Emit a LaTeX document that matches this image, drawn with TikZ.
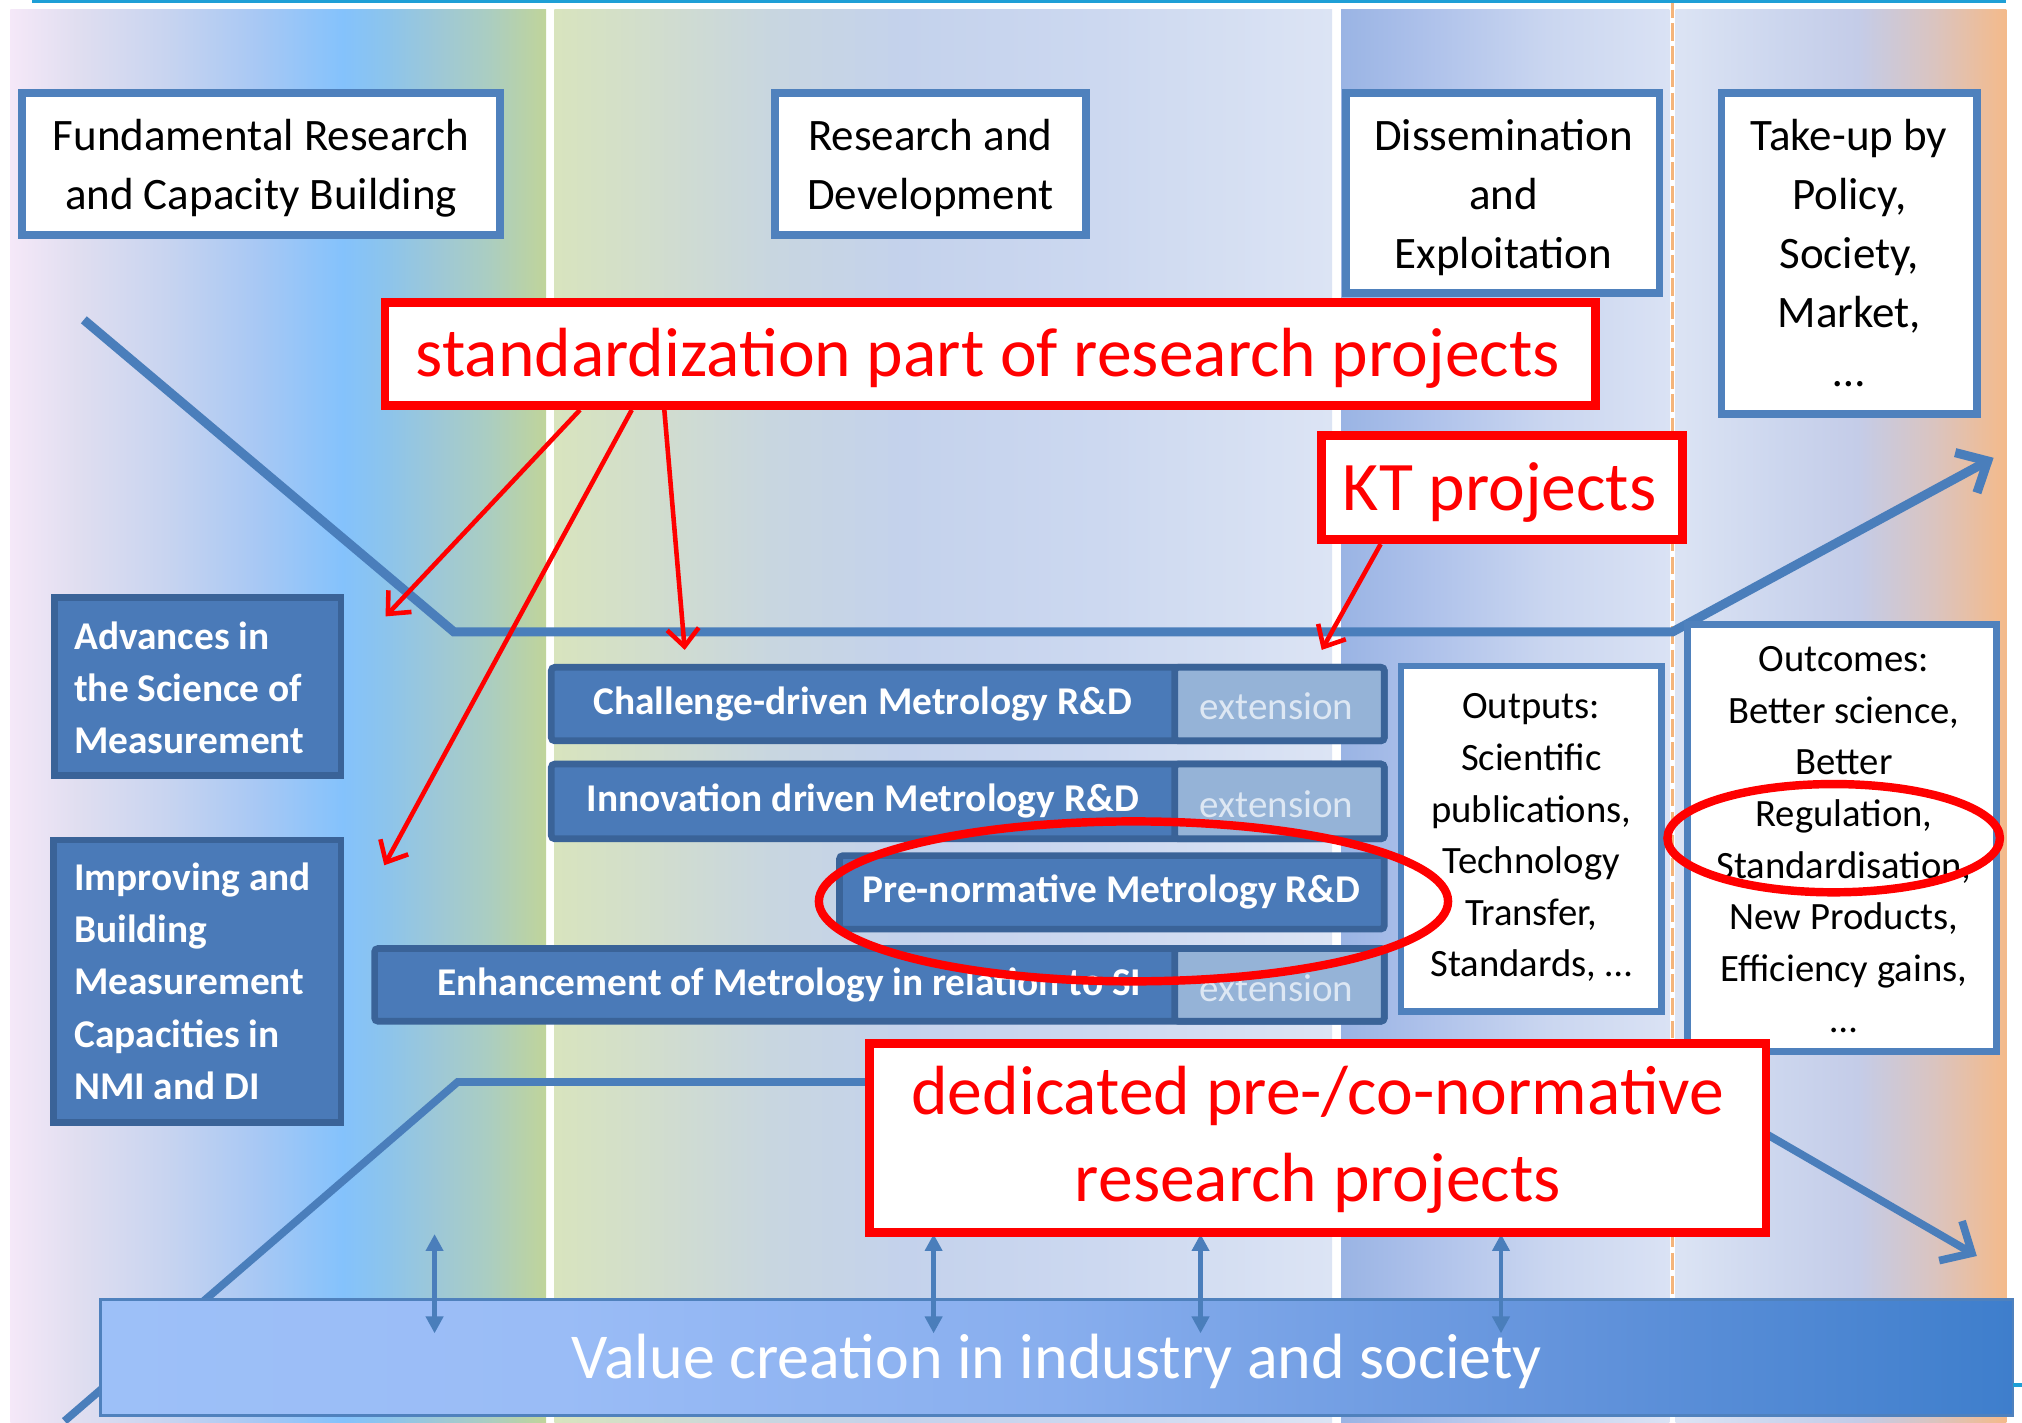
\documentclass[tikz,border=0pt]{standalone}
\usepackage{fontspec}
\setmainfont{Carlito}
\usetikzlibrary{arrows.meta,fit,calc,shapes.geometric}

\definecolor{bblue}{HTML}{4F81BD}
\definecolor{lblue}{HTML}{4A7EBB}
\definecolor{dfill}{HTML}{4A7AB8}
\definecolor{dborder}{HTML}{3A6398}
\definecolor{efill}{HTML}{95B3D7}
\definecolor{etext}{HTML}{DDE7F3}
\definecolor{myred}{HTML}{FF0000}
\definecolor{cyanl}{HTML}{1E9FD6}
\definecolor{dashor}{HTML}{F4B47A}
% column 1
\definecolor{aA}{HTML}{F5E8F8}\definecolor{aB}{HTML}{E0DEF0}\definecolor{aC}{HTML}{C8D4F0}
\definecolor{aD}{HTML}{A8C8F4}\definecolor{aE}{HTML}{84C2FC}\definecolor{aF}{HTML}{8CC4EC}
\definecolor{aG}{HTML}{9EC8D6}\definecolor{aH}{HTML}{AACDC2}\definecolor{aI}{HTML}{C0D49A}
% column 2
\definecolor{bA}{HTML}{D8E4BE}\definecolor{bB}{HTML}{D0DCD0}\definecolor{bC}{HTML}{C8D6E0}
\definecolor{bD}{HTML}{C4D2EC}\definecolor{bE}{HTML}{CCD8F0}\definecolor{bF}{HTML}{DCE4F4}
% column 3
\definecolor{cA}{HTML}{9AB4E4}\definecolor{cB}{HTML}{ACC0EA}\definecolor{cC}{HTML}{CAD6F0}
\definecolor{cD}{HTML}{DAE2F4}
% column 4
\definecolor{dA}{HTML}{DCE4F4}\definecolor{dB}{HTML}{CCD6EE}\definecolor{dC}{HTML}{C4CCE8}
\definecolor{dD}{HTML}{DAC4C0}\definecolor{dE}{HTML}{F4BA8A}
% value bar
\definecolor{vA}{HTML}{9DC0F8}\definecolor{vB}{HTML}{9ABCF6}\definecolor{vC}{HTML}{88AEEE}
\definecolor{vD}{HTML}{6494DC}\definecolor{vE}{HTML}{3E7ECC}

\pgfdeclarehorizontalshading{shcolA}{100bp}{color(0bp)=(aA); color(25bp)=(aA); color(31.25bp)=(aB);
  color(39.5bp)=(aC); color(48bp)=(aD); color(56bp)=(aE); color(60bp)=(aF); color(65bp)=(aG);
  color(69.5bp)=(aH); color(75bp)=(aI); color(100bp)=(aI)}
\pgfdeclarehorizontalshading{shcolB}{100bp}{color(0bp)=(bA); color(25bp)=(bA); color(32.5bp)=(bB);
  color(39bp)=(bC); color(47.5bp)=(bD); color(60bp)=(bE); color(75bp)=(bF); color(100bp)=(bF)}
\pgfdeclarehorizontalshading{shcolC}{100bp}{color(0bp)=(cA); color(25bp)=(cA); color(37bp)=(cB);
  color(56.5bp)=(cC); color(75bp)=(cD); color(100bp)=(cD)}
\pgfdeclarehorizontalshading{shcolD}{100bp}{color(0bp)=(dA); color(25bp)=(dA); color(40.5bp)=(dB);
  color(52.5bp)=(dC); color(64bp)=(dD); color(75bp)=(dE); color(100bp)=(dE)}
\pgfdeclarehorizontalshading{shvalue}{100bp}{color(0bp)=(vA); color(25bp)=(vA); color(37bp)=(vB);
  color(50bp)=(vC); color(63bp)=(vD); color(75bp)=(vE); color(100bp)=(vE)}

\newcommand{\tsA}{\rule{0pt}{12pt}}
\newcommand{\tsB}{\rule{0pt}{10pt}}

\tikzset{
  hdr/.style={draw=bblue, line width=2.2pt, fill=white, inner sep=0pt},
  hdrtxt/.style={align=center, font=\fontsize{12.8}{16.8}\selectfont, inner sep=0pt, anchor=north},
  redbox/.style={draw=myred, line width=2.5pt, fill=white, inner sep=0pt},
  redtxt/.style={text=myred, align=center, font=\fontsize{19.8}{24.6}\selectfont, inner sep=0pt},
  darkbox/.style={draw=dborder, line width=1.9pt, fill=dfill, inner sep=0pt, rounded corners=1pt},
  extbox/.style={draw=dborder, line width=1.9pt, fill=efill, inner sep=0pt, rounded corners=1pt},
  bartxt/.style={text=white, font=\fontsize{11.2}{14.85}\selectfont\bfseries, inner sep=0pt},
  exttxt/.style={text=etext, font=\fontsize{11.1}{14}\selectfont, inner sep=0pt},
  leftbox/.style={draw=dborder, line width=1.9pt, fill=dfill, inner sep=0pt},
  lefttxt/.style={text=white, align=left, font=\fontsize{11.2}{14.85}\selectfont\bfseries, inner sep=0pt, anchor=north west},
  outbox/.style={draw=bblue, line width=1.9pt, fill=white, inner sep=0pt},
  outtxt/.style={align=center, font=\fontsize{11}{14.67}\selectfont, inner sep=0pt, anchor=north},
  procline/.style={draw=lblue, line width=2.6pt},
  redarrow/.style={draw=myred, line width=1.3pt, -{Straight Barb[length=5pt,width=9pt]}},
  dblarrow/.style={draw=lblue, line width=1.3pt, {Triangle[length=4.8pt,width=4.8pt]}-{Triangle[length=4.8pt,width=4.8pt]}},
  redell/.style={draw=myred, line width=2.4pt, ellipse, inner sep=0pt},
  valbar/.style={draw=bblue, line width=0.8pt, shading=shvalue, inner sep=0pt},
  valtxt/.style={text=white, font=\fontsize{18.2}{22}\selectfont, inner sep=0pt}
}

\begin{document}
\begin{tikzpicture}[x=0.0128954cm, y=-0.0128954cm]
\useasboundingbox (0,0) rectangle (1568.05,1103.5);
\fill[white] (0,0) rectangle (1568.05,1103.5);

% ---- background columns
\shade[shading=shcolA] (8,7) rectangle (423.5,1104);
\shade[shading=shcolB] (430,7) rectangle (1033,1104);
\shade[shading=shcolC] (1040,7) rectangle (1294.5,1104);
\shade[shading=shcolD] (1299.5,7) rectangle (1556,1104);
\draw[dashor, line width=0.9pt, dash pattern=on 5pt off 1.6pt] (1297,0) -- (1297,1008);
\draw[cyanl, line width=0.8pt] (25,1) -- (1556,1);

% ---- process lines
\coordinate (u0) at (65,248);
\coordinate (u1) at (352,490);
\coordinate (u2) at (1297,490);
\coordinate (u3) at (1546,355);
\draw[procline, -{Straight Barb[length=7pt,width=13pt]}] (u0) -- (u1) -- (u2) -- (u3);
\coordinate (w0) at (50,1102);
\coordinate (w1) at (355,839);
\coordinate (w2) at (1300,839);
\coordinate (w3) at (1533,974);
\draw[procline, line width=2.2pt, -{Straight Barb[length=7pt,width=13pt]}] (w0) -- (w1) -- (w2) -- (w3);

% ---- header boxes
\node[hdr, fit={(17,72) (388,182)}] (fund) {};
\node[hdrtxt] (fundt) at (202.5,83.3) {\tsA Fundamental Research\\and Capacity Building};
\node[hdr, fit={(601,72) (842,182)}] (rd) {};
\node[hdrtxt] (rdt) at (721.5,83.3) {\tsA Research and\\Development};
\node[hdr, fit={(1044,72) (1287,227)}] (dis) {};
\node[hdrtxt] (dist) at (1166,83.3) {\tsA Dissemination\\and\\Exploitation};
\node[hdr, fit={(1335,72) (1533,321)}] (take) {};
\node[hdrtxt] (taket) at (1434,83.3) {\tsA Take-up by\\Policy,\\Society,\\Market,\\…};

% ---- left boxes
\node[leftbox, fit={(42.5,463.5) (264.5,601.5)}] (adv) {};
\node[lefttxt] (advt) at (57,475.7) {\tsB Advances in\\the Science of\\Measurement};
\node[leftbox, fit={(41.5,651.5) (264.5,870.5)}] (imp) {};
\node[lefttxt] (impt) at (57,662.7) {\tsB Improving and\\Building\\Measurement\\Capacities in\\NMI and DI};

% ---- programme bars
\node[darkbox, fit={(427.5,517.5) (1073.5,574.5)}] (ch) {};
\node[extbox, fit={(911,517.5) (1073.5,574.5)}] (chx) {};
\node[bartxt] (cht) at (669,546) {Challenge-driven Metrology R\&D};
\node[exttxt] (chxt) at (990,548) {extension};

\node[darkbox, fit={(427.5,592.5) (1073.5,650.5)}] (in) {};
\node[extbox, fit={(911,592.5) (1073.5,650.5)}] (inx) {};
\node[bartxt] (int) at (669,621.5) {Innovation driven Metrology R\&D};
\node[exttxt] (inxt) at (990,623.5) {extension};

\node[darkbox, fit={(651,663.5) (1073.5,720.5)}] (pre) {};
\node[bartxt] (pret) at (862,692) {Pre-normative Metrology R\&D};

\node[darkbox, fit={(290.5,735.5) (1073.5,792)}] (en) {};
\node[extbox, fit={(911,735.5) (1073.5,792)}] (enx) {};
\node[bartxt] (ent) at (612,764) {Enhancement of Metrology in relation to SI};
\node[exttxt] (enxt) at (990,766) {extension};

% ---- outputs / outcomes
\node[outbox, fit={(1086.5,516.5) (1288.5,784.5)}] (out) {};
\node[outtxt] (outt) at (1187.5,529.7) {\tsB Outputs:\\Scientific\\publications,\\Technology\\Transfer,\\Standards, …};
\node[outbox, fit={(1308.5,484.5) (1548.5,815.5)}] (oc) {};
\node[outtxt] (oct) at (1430,493.2) {\tsB Outcomes:\\Better science,\\Better\\Regulation,\\Standardisation,\\New Products,\\Efficiency gains,\\…};

% ---- value bar
\node[valbar, fit={(78,1008) (1561,1098)}] (val) {};
\node[valtxt] (valt) at (819.5,1056) {Value creation in industry and society};
\draw[cyanl, line width=1.1pt] (1561,1074) -- (1568,1074);

\coordinate (p1a) at (337,957); \coordinate (p1b) at (337,1034);
\coordinate (p2a) at (724,957); \coordinate (p2b) at (724,1034);
\coordinate (p3a) at (931,957); \coordinate (p3b) at (931,1034);
\coordinate (p4a) at (1164,957); \coordinate (p4b) at (1164,1034);
\draw[dblarrow] (p1a) -- (p1b);
\draw[dblarrow] (p2a) -- (p2b);
\draw[dblarrow] (p3a) -- (p3b);
\draw[dblarrow] (p4a) -- (p4b);

% ---- red annotations
\node[redbox, fit={(298.5,234.5) (1237.5,314.5)}] (std) {};
\node[redtxt] (stdt) at (766,278) {standardization part of research projects};
\node[redbox, fit={(1024.5,337.5) (1304.5,418.5)}] (kt) {};
\node[redtxt] (ktt) at (1163,382) {KT projects};
\node[redbox, fit={(674.5,809.5) (1369.5,955.5)}] (ded) {};
\node[redtxt] (dedt) at (1022,884) {dedicated pre-/co-normative\\research projects};

\coordinate (t1) at (299,478);
\coordinate (t2) at (298,671);
\coordinate (t3) at (531,504);
\coordinate (t4) at (1025,504);
\draw[redarrow] ($(std.south west)!0.1635!(std.south east)$) -- (t1);
\draw[redarrow] ($(std.south west)!0.206!(std.south east)$) -- (t2);
\draw[redarrow] ($(std.south west)!0.2327!(std.south east)$) -- (t3);
\draw[redarrow] ($(kt.south west)!0.173!(kt.south east)$) -- (t4);

\node[redell, minimum width=179pt, minimum height=45.5pt] (ell1) at (879,699) {};
\node[redell, minimum width=94.6pt, minimum height=30.8pt] (ell2) at (1422,650) {};
\end{tikzpicture}
\end{document}
